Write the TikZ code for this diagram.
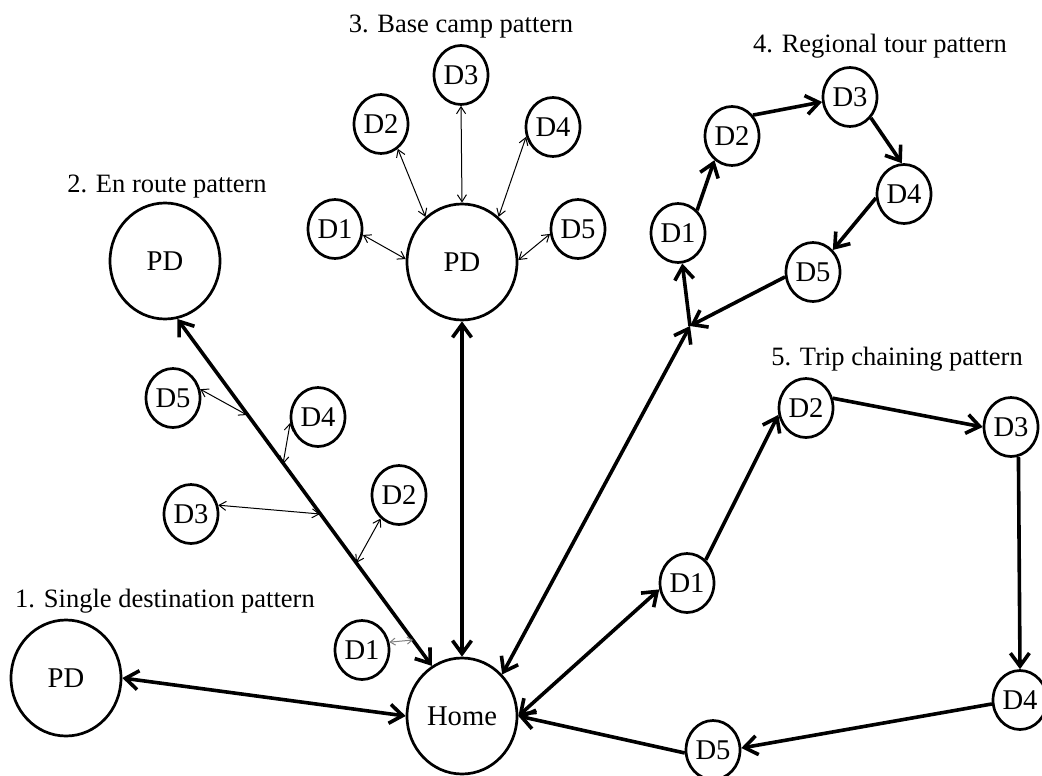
\documentclass[tikz,border=0pt]{standalone}
\usepackage{fontspec}
\setmainfont{Liberation Serif}
\usetikzlibrary{arrows.meta,shapes.geometric}
\begin{document}
\begin{tikzpicture}[x=0.5pt,y=-0.5pt,
  every node/.style={font=\fontsize{13.25}{16}\selectfont},
  big/.style={draw, ellipse, line width=1.35pt, minimum width=55pt, minimum height=58pt, inner sep=0pt, font=\fontsize{14.3}{16}\selectfont},
  small/.style={draw, ellipse, line width=1.35pt, minimum width=27pt, minimum height=29.5pt, inner sep=0pt, font=\fontsize{14.3}{16}\selectfont},
  title/.style={anchor=base, inner sep=0pt},
  onearr/.style={line width=1.8pt, arrows={-Straight Barb[length=6.5pt,width=9.5pt]}},
  twoarr/.style={line width=1.8pt, arrows={Straight Barb[length=6.5pt,width=9.5pt]-Straight Barb[length=6.5pt,width=9.5pt]}},
  thinarr/.style={line width=0.5pt, arrows={Straight Barb[length=3.5pt,width=4.5pt]-Straight Barb[length=3.5pt,width=4.5pt]}},
  greyarr/.style={line width=0.5pt, gray, arrows={Straight Barb[length=2.5pt,width=3.5pt]-Straight Barb[length=2.5pt,width=3.5pt]}}
]
\useasboundingbox (0,0) rectangle (1042,775);

% titles
\node[title] (t1) at (165,607) {1. Single destination pattern};
\node[title] (t2) at (167,192) {2. En route pattern};
\node[title] (t3) at (461,33) {3. Base camp pattern};
\node[title] (t4) at (880,53) {4. Regional tour pattern};
\node[title] (t5) at (897,365) {5. Trip chaining pattern};

% main nodes
\node[big] (home) at (462,716) {Home};
\node[big] (sPD) at (66,678) {PD};
\node[big] (ePD) at (165,261) {PD};
\node[big] (bPD) at (462,262) {PD};

% en route
\node[small] (eD5) at (173,398) {D5};
\node[small] (eD4) at (318,417) {D4};
\node[small] (eD3) at (191,514) {D3};
\node[small] (eD2) at (399,495) {D2};
\node[small] (eD1) at (362,650) {D1};
\coordinate (e5) at (247,415);
\coordinate (e4) at (283,464);
\coordinate (e3) at (320,514);
\coordinate (e2) at (356,563);
\coordinate (e1) at (413,640);

% base camp
\node[small] (bD1) at (335,229) {D1};
\node[small] (bD2) at (381,124) {D2};
\node[small] (bD3) at (461,75) {D3};
\node[small] (bD4) at (553,127) {D4};
\node[small] (bD5) at (578,229) {D5};

% regional tour
\node[small] (rD1) at (678,233) {D1};
\node[small] (rD2) at (732,136) {D2};
\node[small] (rD3) at (850,97) {D3};
\node[small] (rD4) at (904,194) {D4};
\node[small] (rD5) at (813,272) {D5};
\coordinate (J) at (690,326);

% trip chaining
\node[small] (tD1) at (687,583) {D1};
\node[small] (tD2) at (806,408) {D2};
\node[small] (tD3) at (1011,427) {D3};
\node[small] (tD4) at (1020,700) {D4};
\node[small] (tD5) at (713,750) {D5};

% 1. single destination
\draw[twoarr] (sPD.east) -- (home.west);

% 2. en route
\draw[twoarr] (ePD.-78) -- (home.121);
\draw[thinarr] (eD5.18) -- (e5);
\draw[thinarr] (eD4.192) -- (e4);
\draw[thinarr] (eD3.18) -- (e3);
\draw[thinarr] (eD2.232) -- (e2);
\draw[greyarr] (eD1.16) -- (e1);

% 3. base camp
\draw[twoarr] (bPD.south) -- (home.north);
\draw[thinarr] (bD1.348) -- (bPD.177);
\draw[thinarr] (bD2.304) -- (bPD.129);
\draw[thinarr] (bD3.south) -- (bPD.north);
\draw[thinarr] (bD4.200) -- (bPD.51);
\draw[thinarr] (bD5.190) -- (bPD.2);

% 4. regional tour
\draw[twoarr] (home.46) -- (J);
\draw[onearr] (J) -- (rD1.-82);
\draw[onearr] (rD1.50) -- (rD2.234);
\draw[onearr] (rD2.45) -- (rD3.190);
\draw[onearr] (rD3.-45) -- (rD4.94);
\draw[onearr] (rD4.188) -- (rD5.48);
\draw[onearr] (rD5.190) -- (J);

% 5. trip chaining
\draw[twoarr] (home.east) -- (tD1.193);
\draw[onearr] (tD1.51) -- (tD2.194);
\draw[onearr] (tD2.20) -- (tD3.west);
\draw[onearr] (tD3.-76) -- (tD4.north);
\draw[onearr] (tD4.188) -- (tD5.4);
\draw[onearr] (tD5.186) -- (home.east);
\end{tikzpicture}
\end{document}
